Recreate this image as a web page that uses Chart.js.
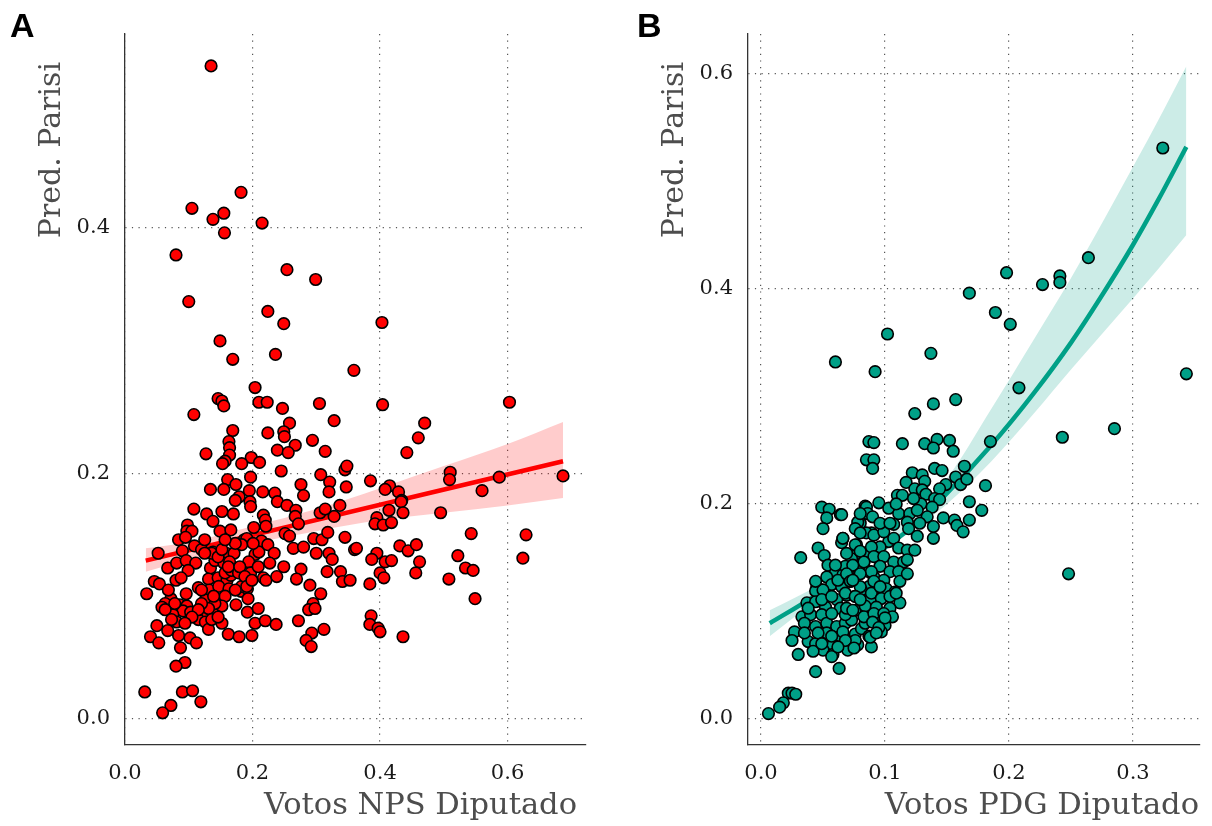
<!DOCTYPE html>
<html>
<head>
<meta charset="utf-8">
<script src="https://cdn.jsdelivr.net/npm/chart.js@4.4.1/dist/chart.umd.min.js"></script>
<style>
  body { margin: 0; background: #fff; }
  #wrap { position: relative; width: 1212px; height: 826px; }
  #boxA { position: absolute; left: 0; top: 0; width: 606px; height: 826px; }
  #boxB { position: absolute; left: 606px; top: 0; width: 606px; height: 826px; }
</style>
</head>
<body>
<div id="wrap">
  <div id="boxA"><canvas id="chartA" width="606" height="826"></canvas></div>
  <div id="boxB"><canvas id="chartB" width="606" height="826"></canvas></div>
</div>
<script>
// ---- data ----
const npsPoints = [
  [0.135,0.532],[0.182,0.429],[0.105,0.416],[0.155,0.412],[0.138,0.407],[0.215,0.404],[0.156,0.396],[0.080,0.378],[0.254,0.366],
  [0.299,0.358],[0.100,0.340],[0.224,0.332],[0.249,0.322],[0.149,0.308],[0.236,0.297],[0.169,0.293],[0.359,0.284],[0.204,0.270],
  [0.146,0.261],[0.152,0.259],[0.155,0.255],[0.210,0.258],[0.223,0.258],[0.305,0.257],[0.108,0.248],[0.247,0.253],[0.328,0.243],
  [0.258,0.241],[0.169,0.235],[0.224,0.233],[0.249,0.234],[0.250,0.230],[0.267,0.223],[0.294,0.227],[0.163,0.226],[0.164,0.221],
  [0.239,0.219],[0.256,0.217],[0.314,0.218],[0.127,0.216],[0.164,0.215],[0.157,0.210],[0.153,0.208],[0.198,0.213],[0.183,0.208],
  [0.211,0.209],[0.245,0.202],[0.307,0.199],[0.321,0.193],[0.345,0.203],[0.348,0.206],[0.161,0.195],[0.174,0.191],[0.197,0.197],
  [0.134,0.187],[0.155,0.187],[0.195,0.186],[0.216,0.185],[0.235,0.184],[0.276,0.191],[0.280,0.182],[0.320,0.185],[0.347,0.189],
  [0.179,0.181],[0.173,0.178],[0.196,0.177],[0.197,0.173],[0.239,0.177],[0.108,0.171],[0.128,0.167],[0.152,0.169],[0.170,0.167],
  [0.138,0.161],[0.217,0.166],[0.220,0.162],[0.254,0.174],[0.268,0.170],[0.267,0.165],[0.306,0.168],[0.314,0.171],[0.328,0.165],
  [0.337,0.174],[0.098,0.158],[0.097,0.153],[0.105,0.153],[0.149,0.153],[0.166,0.154],[0.202,0.156],[0.221,0.157],[0.272,0.159],
  [0.084,0.146],[0.095,0.148],[0.187,0.146],[0.191,0.147],[0.214,0.145],[0.251,0.151],[0.258,0.149],[0.296,0.147],[0.309,0.146],
  [0.318,0.152],[0.345,0.148],[0.052,0.135],[0.090,0.137],[0.109,0.141],[0.120,0.138],[0.138,0.136],[0.159,0.135],[0.171,0.135],
  [0.183,0.142],[0.204,0.134],[0.210,0.136],[0.224,0.142],[0.234,0.135],[0.264,0.139],[0.280,0.140],[0.300,0.135],[0.320,0.135],
  [0.325,0.130],[0.360,0.138],[0.067,0.123],[0.081,0.127],[0.096,0.129],[0.111,0.127],[0.099,0.121],[0.134,0.123],[0.141,0.129],
  [0.155,0.127],[0.164,0.128],[0.176,0.122],[0.194,0.128],[0.197,0.119],[0.209,0.124],[0.227,0.127],[0.249,0.124],[0.276,0.122],
  [0.317,0.120],[0.338,0.120],[0.046,0.112],[0.054,0.110],[0.080,0.113],[0.088,0.115],[0.131,0.114],[0.146,0.115],[0.160,0.113],
  [0.166,0.117],[0.217,0.115],[0.221,0.113],[0.238,0.116],[0.269,0.114],[0.341,0.112],[0.290,0.109],[0.115,0.107],[0.132,0.105],
  [0.147,0.108],[0.163,0.106],[0.182,0.104],[0.192,0.106],[0.193,0.098],[0.034,0.102],[0.096,0.102],[0.072,0.098],[0.126,0.097],
  [0.307,0.102],[0.063,0.094],[0.058,0.091],[0.086,0.093],[0.097,0.092],[0.091,0.088],[0.103,0.087],[0.174,0.093],[0.192,0.087],
  [0.209,0.090],[0.295,0.094],[0.288,0.089],[0.298,0.090],[0.075,0.085],[0.124,0.086],[0.138,0.086],[0.081,0.079],[0.115,0.081],
  [0.126,0.079],[0.152,0.078],[0.204,0.078],[0.220,0.080],[0.237,0.077],[0.272,0.080],[0.050,0.076],[0.067,0.072],[0.084,0.068],
  [0.040,0.067],[0.053,0.062],[0.102,0.066],[0.112,0.062],[0.131,0.073],[0.162,0.069],[0.179,0.067],[0.199,0.068],[0.293,0.070],
  [0.284,0.064],[0.292,0.059],[0.312,0.073],[0.087,0.058],[0.094,0.046],[0.080,0.043],[0.031,0.022],[0.090,0.022],[0.106,0.023],
  [0.119,0.014],[0.072,0.011],[0.059,0.005],
  [0.136,0.135],[0.146,0.132],[0.157,0.119],[0.167,0.121],[0.178,0.119],[0.183,0.108],[0.173,0.105],[0.157,0.100],[0.152,0.092],
  [0.141,0.094],[0.131,0.090],[0.120,0.094],[0.115,0.089],[0.105,0.083],[0.136,0.081],[0.146,0.083],[0.120,0.105],[0.139,0.100],
  [0.162,0.124],[0.180,0.124],[0.188,0.116],[0.191,0.108],[0.068,0.105],[0.078,0.094],[0.063,0.089],[0.073,0.081],[0.094,0.078],
  [0.125,0.135],[0.152,0.138],[0.173,0.143],[0.157,0.146],[0.125,0.146],[0.199,0.113],[0.201,0.143],
  [0.403,0.323],[0.404,0.256],[0.603,0.258],[0.470,0.241],[0.460,0.229],[0.442,0.217],[0.385,0.194],[0.510,0.201],[0.509,0.195],
  [0.415,0.190],[0.408,0.187],[0.429,0.185],[0.434,0.178],[0.587,0.197],[0.560,0.186],[0.687,0.198],
  [0.433,0.177],[0.414,0.170],[0.436,0.168],[0.395,0.164],[0.392,0.159],[0.405,0.158],[0.418,0.160],[0.495,0.168],[0.543,0.151],
  [0.629,0.150],[0.363,0.139],[0.431,0.141],[0.444,0.137],[0.457,0.142],[0.395,0.135],[0.387,0.130],[0.408,0.128],[0.418,0.129],
  [0.462,0.128],[0.522,0.133],[0.624,0.131],[0.400,0.119],[0.406,0.115],[0.456,0.119],[0.534,0.123],[0.546,0.121],[0.353,0.113],
  [0.384,0.110],[0.508,0.114],[0.549,0.098],[0.386,0.084],[0.384,0.077],[0.397,0.074],[0.400,0.071],[0.436,0.067]
];

const pdgPoints = [
  [0.049,0.197],[0.055,0.195],[0.064,0.190],[0.053,0.187],[0.050,0.177],[0.084,0.198],[0.085,0.191],[0.080,0.182],[0.077,0.177],
  [0.089,0.173],[0.066,0.168],[0.065,0.164],[0.046,0.159],[0.051,0.152],[0.032,0.150],[0.077,0.162],[0.078,0.154],[0.084,0.154],
  [0.083,0.146],[0.054,0.143],[0.073,0.142],[0.060,0.136],[0.066,0.134],[0.072,0.128],[0.053,0.132],[0.057,0.125],[0.045,0.123],
  [0.044,0.119],[0.050,0.120],[0.069,0.115],[0.061,0.111],[0.076,0.114],[0.084,0.114],[0.088,0.111],[0.037,0.108],[0.044,0.109],
  [0.052,0.104],[0.064,0.103],[0.083,0.104],[0.033,0.095],[0.040,0.097],[0.049,0.097],[0.035,0.089],[0.044,0.086],[0.053,0.089],
  [0.061,0.086],[0.068,0.089],[0.076,0.079],[0.081,0.084],[0.027,0.081],[0.053,0.080],[0.064,0.077],[0.025,0.073],[0.038,0.072],
  [0.044,0.070],[0.058,0.069],[0.078,0.069],[0.050,0.064],[0.058,0.060],[0.042,0.063],[0.030,0.060],[0.044,0.044],[0.063,0.047],
  [0.022,0.024],[0.025,0.024],[0.028,0.023],[0.018,0.015],[0.015,0.011],[0.006,0.005],
  [0.073,0.149],[0.080,0.142],[0.087,0.137],[0.091,0.132],[0.087,0.123],[0.081,0.120],[0.091,0.118],[0.076,0.101],[0.087,0.098],
  [0.091,0.092],[0.073,0.092],[0.084,0.089],[0.076,0.073],[0.087,0.077],[0.089,0.067],[0.070,0.064],[0.066,0.081],[0.057,0.058],
  [0.049,0.111],[0.057,0.114],[0.065,0.123],[0.062,0.129],[0.070,0.134],[0.068,0.142],[0.060,0.143],[0.044,0.128],[0.038,0.103],
  [0.057,0.098],[0.068,0.097],[0.046,0.080],[0.057,0.077],[0.068,0.073],[0.062,0.067],[0.049,0.070],[0.035,0.080],
  [0.157,0.297],[0.139,0.293],[0.124,0.284],[0.087,0.258],[0.091,0.257],[0.114,0.256],[0.132,0.256],[0.142,0.260],[0.139,0.252],
  [0.152,0.259],[0.155,0.249],[0.085,0.241],[0.091,0.241],[0.090,0.233],[0.122,0.229],[0.130,0.227],[0.140,0.233],[0.146,0.231],
  [0.157,0.225],[0.117,0.220],[0.132,0.221],[0.149,0.218],[0.161,0.218],[0.124,0.214],[0.130,0.213],[0.144,0.214],[0.110,0.208],
  [0.114,0.208],[0.133,0.209],[0.140,0.205],[0.144,0.204],[0.095,0.201],[0.129,0.200],[0.138,0.197],[0.085,0.197],[0.103,0.196],
  [0.065,0.190],[0.086,0.191],[0.090,0.188],[0.111,0.191],[0.120,0.191],[0.134,0.188],[0.147,0.187],[0.156,0.185],[0.078,0.183],
  [0.107,0.181],[0.118,0.183],[0.139,0.179],[0.158,0.180],[0.076,0.177],[0.085,0.173],[0.091,0.171],[0.119,0.177],[0.126,0.170],
  [0.139,0.168],[0.103,0.165],[0.107,0.168],[0.066,0.168],[0.096,0.160],[0.111,0.159],[0.118,0.157],[0.124,0.157],[0.089,0.160],
  [0.076,0.162],[0.080,0.156],[0.069,0.154],[0.091,0.151],[0.099,0.151],[0.107,0.146],[0.115,0.146],[0.083,0.146],[0.074,0.143],
  [0.096,0.142],[0.104,0.137],[0.111,0.137],[0.089,0.137],[0.069,0.135],[0.080,0.135],[0.099,0.129],[0.112,0.128],[0.091,0.128],
  [0.072,0.128],[0.080,0.123],[0.101,0.121],[0.108,0.118],[0.089,0.117],[0.068,0.117],[0.076,0.114],[0.097,0.112],[0.112,0.108],
  [0.084,0.105],[0.093,0.104],[0.104,0.103],[0.069,0.103],[0.083,0.095],
  [0.074,0.129],[0.096,0.123],[0.104,0.114],[0.080,0.111],[0.091,0.098],[0.099,0.098],[0.109,0.117],[0.074,0.101],[0.118,0.148],
  [0.118,0.135],[0.080,0.173],[0.099,0.174],[0.080,0.191],[0.096,0.182],[0.104,0.182],[0.128,0.182],[0.109,0.200],[0.123,0.205],
  [0.126,0.194],[0.100,0.087],[0.106,0.095],[0.097,0.081],
  [0.185,0.258],[0.164,0.235],[0.166,0.223],[0.181,0.217],[0.168,0.202],[0.178,0.194],[0.168,0.185],[0.163,0.174],
  [0.324,0.531],[0.264,0.429],[0.198,0.415],[0.241,0.412],[0.241,0.406],[0.227,0.404],[0.168,0.396],[0.189,0.378],[0.201,0.367],
  [0.102,0.358],[0.137,0.340],[0.060,0.332],[0.092,0.323],[0.343,0.321],[0.208,0.308],[0.285,0.270],[0.243,0.262],[0.248,0.135],
  [0.090,0.090],[0.095,0.085],[0.088,0.076],[0.100,0.094],[0.093,0.080],[0.075,0.066]
];

// fitted curves and 95% bands
const fitAx = [0.0325, 0.687];
const fitAy = [0.129, 0.210];
const bandAx = [0.0325, 0.1, 0.2, 0.3, 0.4, 0.5, 0.6, 0.687];
const bandAlo = [0.120, 0.130, 0.143, 0.153, 0.162, 0.168, 0.174, 0.180];
const bandAhi = [0.139, 0.144, 0.157, 0.171, 0.188, 0.206, 0.224, 0.242];

const fitBx = [0.007, 0.04, 0.08, 0.12, 0.15, 0.186, 0.22, 0.25, 0.275, 0.30, 0.32, 0.343];
const fitBy = [0.089, 0.112, 0.143, 0.177, 0.210, 0.255, 0.303, 0.350, 0.394, 0.441, 0.482, 0.532];
const bandBx = [0.007, 0.05, 0.1, 0.15, 0.186, 0.22, 0.25, 0.2855, 0.32, 0.343];
const bandBlo = [0.077, 0.115, 0.157, 0.200, 0.240, 0.284, 0.325, 0.372, 0.418, 0.450];
const bandBhi = [0.101, 0.127, 0.168, 0.224, 0.289, 0.353, 0.410, 0.483, 0.556, 0.607];

const xTicksA = [0, 0.2, 0.4, 0.6];
const yTicksA = [0, 0.2, 0.4];
const xTicksB = [0, 0.1, 0.2, 0.3];
const yTicksB = [0, 0.2, 0.4, 0.6];

const SERIF = "'DejaVu Serif', serif";

// draws panel letter + axis titles where the original has them
const axisTitles = {
    id: 'axisTitles',
    afterDraw(chart, args, opts) {
        const ctx = chart.ctx;
        ctx.save();
        ctx.fillStyle = '#000';
        ctx.font = "bold 34px 'Liberation Sans', Arial, sans-serif";
        ctx.textAlign = 'left';
        ctx.textBaseline = 'alphabetic';
        ctx.fillText(opts.letter, opts.letterX, 37);

        ctx.fillStyle = '#4d4d4d';
        ctx.font = '30.5px ' + SERIF;
        ctx.textAlign = 'right';
        ctx.fillText(opts.xTitle, opts.xTitleRight, 814);

        ctx.font = '30px ' + SERIF;
        ctx.translate(opts.yTitleX, 62);
        ctx.rotate(-Math.PI / 2);
        ctx.textAlign = 'right';
        ctx.fillText(opts.yTitle, 0, 0);
        ctx.restore();
    }
};

function toXY(xs, ys) {
    return xs.map((x, i) => ({ x: x, y: ys[i] }));
}

function makeChart(id, cfg) {
    const ctx = document.getElementById(id).getContext('2d');
    return new Chart(ctx, {
        type: 'scatter',
        data: {
            datasets: [
                {
                    data: cfg.points.map(p => ({ x: p[0], y: p[1] })),
                    backgroundColor: cfg.color,
                    borderColor: '#000',
                    borderWidth: 1.6,
                    pointRadius: 5.8,
                    pointHoverRadius: 5.8
                },
                {
                    type: 'line',
                    data: toXY(cfg.fitX, cfg.fitY),
                    borderColor: cfg.color,
                    borderWidth: 4.5,
                    pointRadius: 0,
                    tension: 0.4,
                    cubicInterpolationMode: 'monotone',
                    fill: false
                },
                {
                    type: 'line',
                    data: toXY(cfg.bandX, cfg.bandLo),
                    borderWidth: 0,
                    pointRadius: 0,
                    tension: 0.4,
                    cubicInterpolationMode: 'monotone',
                    fill: false
                },
                {
                    type: 'line',
                    data: toXY(cfg.bandX, cfg.bandHi),
                    borderWidth: 0,
                    pointRadius: 0,
                    tension: 0.4,
                    cubicInterpolationMode: 'monotone',
                    backgroundColor: cfg.band,
                    fill: '-1'
                }
            ]
        },
        options: {
            responsive: false,
            animation: false,
            layout: { padding: { top: 34, right: cfg.padRight, bottom: 0, left: 0 } },
            plugins: {
                legend: { display: false },
                tooltip: { enabled: false },
                axisTitles: cfg.titles
            },
            scales: {
                x: {
                    type: 'linear',
                    min: cfg.xMin, max: cfg.xMax,
                    afterBuildTicks: s => { s.ticks = cfg.xTicks.map(v => ({ value: v })); },
                    afterFit: s => { s.height = 81; },
                    grid: { color: '#555', lineWidth: 1.2, drawTicks: false },
                    border: { display: true, color: '#333', width: 1.3, dash: [1.2, 5.4] },
                    ticks: {
                        padding: 16,
                        color: '#1a1a1a',
                        font: { family: SERIF, size: 21 },
                        maxRotation: 0,
                        callback: v => v.toFixed(1)
                    }
                },
                y: {
                    type: 'linear',
                    min: cfg.yMin, max: cfg.yMax,
                    afterBuildTicks: s => { s.ticks = cfg.yTicks.map(v => ({ value: v })); },
                    afterFit: s => { s.width = cfg.yWidth; },
                    grid: { color: '#555', lineWidth: 1.2, drawTicks: false },
                    border: { display: true, color: '#333', width: 1.3, dash: [1.2, 5.4] },
                    ticks: {
                        padding: 15,
                        color: '#1a1a1a',
                        font: { family: SERIF, size: 21 },
                        callback: v => v.toFixed(1)
                    }
                }
            }
        },
        plugins: [axisTitles]
    });
}

makeChart('chartA', {
    points: npsPoints,
    fitX: fitAx, fitY: fitAy,
    bandX: bandAx, bandLo: bandAlo, bandHi: bandAhi,
    color: '#FF0000',
    band: 'rgba(255, 0, 0, 0.2)',
    xMin: 0, xMax: 0.723, yMin: -0.0212, yMax: 0.558,
    xTicks: xTicksA, yTicks: yTicksA,
    yWidth: 125, padRight: 20,
    titles: { letter: 'A', letterX: 10, xTitle: 'Votos NPS Diputado', xTitleRight: 577, yTitle: 'Pred. Parisi', yTitleX: 60 }
});

makeChart('chartB', {
    points: pdgPoints,
    fitX: fitBx, fitY: fitBy,
    bandX: bandBx, bandLo: bandBlo, bandHi: bandBhi,
    color: '#00A087',
    band: 'rgba(0, 160, 135, 0.2)',
    xMin: -0.0105, xMax: 0.354, yMin: -0.0242, yMax: 0.637,
    xTicks: xTicksB, yTicks: yTicksB,
    yWidth: 142, padRight: 12,
    titles: { letter: 'B', letterX: 31, xTitle: 'Votos PDG Diputado', xTitleRight: 593, yTitle: 'Pred. Parisi', yTitleX: 77 }
});
</script>
</body>
</html>
